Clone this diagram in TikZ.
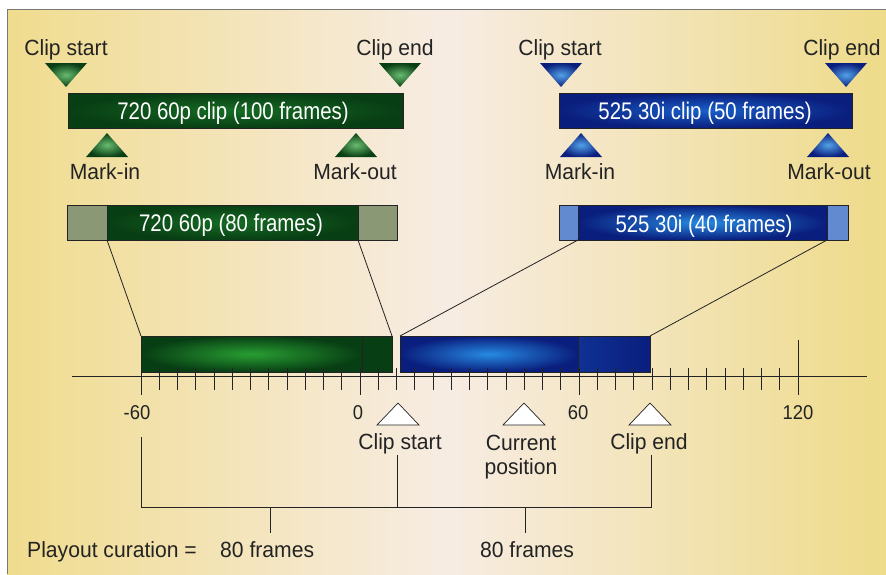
\documentclass[tikz,border=0pt]{standalone}
\usepackage{fontspec}
\setmainfont{Liberation Sans}
\newfontfamily\lblfont[FakeStretch=0.96]{Liberation Sans}
\newfontfamily\barfont[FakeStretch=0.85]{Liberation Sans}
\newfontfamily\numfont[FakeStretch=0.92]{Liberation Sans}
\definecolor{bgL}{RGB}{240,220,142}
\definecolor{bgM}{RGB}{247,236,227}
\definecolor{bgR}{RGB}{238,219,138}
\definecolor{gDark}{RGB}{8,62,20}
\definecolor{gMid}{RGB}{22,108,36}
\definecolor{gBright}{RGB}{40,158,50}
\definecolor{gEnd}{RGB}{138,152,118}
\definecolor{bDark}{RGB}{10,30,125}
\definecolor{bMid}{RGB}{25,95,200}
\definecolor{bBright}{RGB}{38,138,226}
\definecolor{bEnd}{RGB}{98,138,208}
\definecolor{ink}{RGB}{35,35,35}
\definecolor{frameGray}{RGB}{120,120,120}
\newcommand{\mytridown}[4]{%
  \coordinate (#1) at (#2,#3);
  \shade[#4] (#2-21,#3-24) -- (#2+21,#3-24) -- (#2,#3) -- cycle;}
\newcommand{\mytriup}[4]{%
  \coordinate (#1) at (#2,#3);
  \shade[#4] (#2-21,#3+24) -- (#2+21,#3+24) -- (#2,#3) -- cycle;}
\newcommand{\mytriwhite}[2]{%
  \coordinate (#1) at (#2,403);
  \draw[draw=ink, fill=white, line width=0.7pt] (#2-21,425) -- (#2+21,425) -- (#2,403) -- cycle;}
\begin{document}
\begin{tikzpicture}[x=1pt,y=-1pt,
  lbl/.style={font={\lblfont\fontsize{22}{24}\selectfont}, text=ink, inner sep=0pt, anchor=base},
  num/.style={font={\numfont\fontsize{20}{22}\selectfont}, text=ink, inner sep=0pt, anchor=base},
  bartext/.style={font={\barfont\fontsize{24}{26}\selectfont}, text=white, inner sep=0pt, anchor=base},
  barbox/.style={draw=ink, line width=0.8pt, inner sep=0pt, outer sep=0pt},
  conn/.style={draw=ink, line width=0.8pt},
  tickline/.style={draw=ink, line width=0.9pt},
  gtri/.style={inner color=gBright!70!white, outer color=gDark},
  btri/.style={inner color=bBright!80!white, outer color=bDark}]
\useasboundingbox (0,0) rectangle (886,574);
\fill[white] (0,0) rectangle (886,574);
\shade[left color=bgL, right color=bgR, middle color=bgM] (7,9) rectangle (886,574);
\draw[frameGray, line width=1pt] (7,574) -- (7,9) -- (886,9);

% ---- top clips ----
\node[lbl, anchor=base] (tcs1) at (66,55) {Clip start};
\node[lbl, anchor=base] (tce1) at (395,55) {Clip end};
\node[lbl, anchor=base] (tcs2) at (560,55) {Clip start};
\node[lbl, anchor=base] (tce2) at (842,55) {Clip end};
\mytridown{dg1}{66}{87}{gtri}
\mytridown{dg2}{400}{87}{gtri}
\mytridown{db1}{561}{87}{btri}
\mytridown{db2}{846}{87}{btri}

\node[barbox, minimum width=335pt, minimum height=35pt, inner color=gMid, outer color=gDark] (gclip) at (235.5,110.5) {};
\node[bartext] (gcliptxt) at (233,119) {720 60p clip (100 frames)};
\node[barbox, minimum width=293pt, minimum height=35pt, inner color=bMid, outer color=bDark] (bclip) at (705.5,110.5) {};
\node[bartext] (bcliptxt) at (705,119) {525 30i clip (50 frames)};

\mytriup{ug1}{107}{133}{gtri}
\mytriup{ug2}{356}{133}{gtri}
\mytriup{ub1}{581}{133}{btri}
\mytriup{ub2}{828}{133}{btri}
\node[lbl] (mi1) at (105,179) {Mark-in};
\node[lbl] (mo1) at (355,179) {Mark-out};
\node[lbl] (mi2) at (580,179) {Mark-in};
\node[lbl] (mo2) at (829,179) {Mark-out};

% ---- middle strips ----
\node[barbox, minimum width=40pt, minimum height=35pt, fill=gEnd] (gsL) at (87,222.5) {};
\node[barbox, minimum width=251pt, minimum height=35pt, inner color=gMid, outer color=gDark] (gsM) at (232.5,222.5) {};
\node[barbox, minimum width=39pt, minimum height=35pt, fill=gEnd] (gsR) at (377.5,222.5) {};
\node[bartext] (gstxt) at (231,231) {720 60p (80 frames)};

\node[barbox, minimum width=19pt, minimum height=35pt, fill=bEnd] (bsL) at (568.5,222.5) {};
\node[barbox, minimum width=249pt, minimum height=35pt, inner color=bBright, outer color=bDark] (bsM) at (702.5,222.5) {};
\node[barbox, minimum width=21pt, minimum height=35pt, fill=bEnd] (bsR) at (837.5,222.5) {};
\node[bartext] (bstxt) at (704,232) {525 30i (40 frames)};

% ---- timeline bars ----
\node[barbox, minimum width=221pt, minimum height=36pt, inner color=gBright, outer color=gDark] (gbar) at (251.5,354) {};
\node[barbox, minimum width=30pt, minimum height=36pt, fill=gDark] (gbarR) at (377,354) {};
\node[barbox, minimum width=178pt, minimum height=36pt, inner color=bBright, outer color=bDark] (bbar) at (489,354) {};
\node[barbox, minimum width=72pt, minimum height=36pt, left color=bDark!70!bMid, right color=bDark] (bbarR) at (614,354) {};

% connectors
\draw[conn] (gsM.south west) -- (gbar.north west);
\draw[conn] (gsM.south east) -- (gbarR.north east);
\draw[conn] (bsM.south west) -- (bbar.north west);
\draw[conn] (bsM.south east) -- (bbarR.north east);

% ---- axis ----
\coordinate (axL) at (72,376);
\coordinate (axR) at (867,376);
\draw[tickline] (axL) -- (axR);
\foreach \f in {-55,-50,...,115} {
  \draw[tickline] ({360+3.65*\f},368) -- ({360+3.65*\f},390);
}
\foreach \f in {-60,0,60} {
  \draw[tickline] ({360+3.65*\f},368) -- ({360+3.65*\f},395);
}
\draw[tickline] ({360+3.65*120},340) -- ({360+3.65*120},395);

\node[num] (nm60) at (137,419) {-60};
\node[num] (n0) at (358,419) {0};
\node[num] (n60) at (578,419) {60};
\node[num] (n120) at (798,419) {120};

\mytriwhite{wcs}{398}
\mytriwhite{wcp}{524}
\mytriwhite{wce}{650}
\node[lbl] (lcs) at (400,449) {Clip start};
\node[lbl] (lcp1) at (521,450) {Current};
\node[lbl] (lcp2) at (521,474) {position};
\node[lbl] (lce) at (649,449) {Clip end};

% ---- bracket ----
\coordinate (bA) at (141,437);
\coordinate (bAb) at (141,507);
\coordinate (bB) at (397,455);
\coordinate (bBb) at (397,507);
\coordinate (bC) at (651,455);
\coordinate (bCb) at (651,507);
\coordinate (s1) at (270,507);
\coordinate (s1e) at (270,533);
\coordinate (s2) at (525,507);
\coordinate (s2e) at (525,533);
\draw[conn] (bA) -- (bAb) -- (bCb) -- (bC);
\draw[conn] (bB) -- (bBb);
\draw[conn] (s1) -- (s1e);
\draw[conn] (s2) -- (s2e);

\node[lbl, anchor=base west] (pd) at (27,557) {Playout curation =};
\node[lbl, anchor=base west] (pf1) at (220,557) {80 frames};
\node[lbl] (pf2) at (527,557) {80 frames};
\end{tikzpicture}
\end{document}
